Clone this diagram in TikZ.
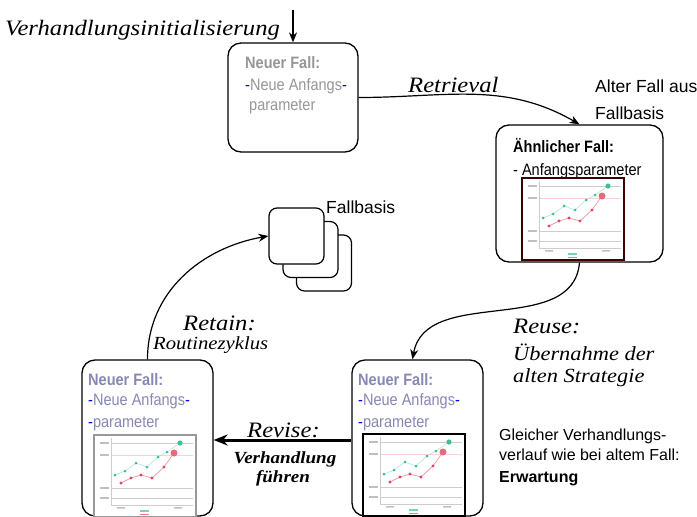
\documentclass[tikz,border=0pt]{standalone}
\usepackage{fontspec}
\setmainfont{Liberation Serif}
\newfontfamily\wideserif[FakeStretch=1.12]{Liberation Serif}
\newfontfamily\plainsans{Liberation Sans}
\newfontfamily\narrowsans[FakeStretch=0.88]{Liberation Sans}
\usetikzlibrary{arrows.meta}
\definecolor{oldgray}{RGB}{150,150,150}
\definecolor{lavender}{RGB}{135,135,180}
\definecolor{dashblue}{RGB}{0,0,255}
\definecolor{dotteal}{RGB}{60,190,150}
\definecolor{dotred}{RGB}{220,70,90}
\definecolor{framered}{RGB}{60,0,0}
\definecolor{chartgray}{RGB}{205,205,205}
\tikzset{
    casebox/.style={draw,line width=1.3pt,rounded corners=13pt,fill=white,inner sep=0pt},
    stackbox/.style={draw,line width=1.2pt,rounded corners=8pt,fill=white,
        minimum width=55pt,minimum height=56pt,inner sep=0pt},
    flow/.style={-{Stealth[length=10pt,width=8pt]},line width=1.2pt},
    reviseflow/.style={-{Stealth[length=14pt,width=11pt]},line width=3pt},
    phase/.style={font=\wideserif\fontsize{22}{24}\selectfont\itshape,inner sep=0pt,anchor=base west},
    phasenote/.style={font=\wideserif\fontsize{20}{22}\selectfont\itshape,inner sep=0pt,anchor=base west},
    revisenote/.style={font=\wideserif\fontsize{17}{19}\selectfont\bfseries\itshape,inner sep=0pt,anchor=base},
    sidenote/.style={font=\plainsans\fontsize{16.5}{19}\selectfont,inner sep=0pt,anchor=base west},
    casetext/.style={font=\narrowsans\fontsize{16.5}{19}\selectfont,inner sep=0pt,anchor=base west},
    chartgrid/.style={chartgray,line width=0.5pt},
    pics/minichart/.style={code={
        \fill[white] (0,0) rectangle (102,82);
        \foreach \gy in {8,53,63} \draw[chartgrid] (17,\gy) -- (99,\gy);
        \draw[chartgrid,dotred!25] (17,20) -- (99,20);
        \draw[chartgrid] (17,3) -- (17,70) -- (99,70);
        \foreach \gy in {8,20,53,63} \fill[gray!50] (6,\gy-1.5) rectangle (15,\gy+0.5);
        \fill[gray!50] (23,72) rectangle (31,73.5) (80,72) rectangle (88,73.5);
        \fill[dotteal!70] (46,75) rectangle (55,76.5);
        \fill[dotred!70] (46,78.5) rectangle (55,80);
        \draw[dotteal!45,line width=0.5pt] (21,40) -- (31,36) -- (42,28) -- (53,32) -- (64,22) -- (73,17) -- (86,8);
        \draw[dotred!55,line width=0.7pt] (27,48) -- (37,43) -- (47,40) -- (58,43) -- (70,32) -- (80,18);
        \foreach \px/\py in {21/40,31/36,42/28,53/32,64/22,73/17}
            \fill[dotteal] (\px,\py) circle[radius=1.5pt];
        \fill[dotteal] (86,8) circle[radius=2.6pt];
        \foreach \px/\py in {27/48,37/43,47/40,58/43,70/32}
            \fill[dotred] (\px,\py) circle[radius=1.6pt];
        \fill[dotred!80] (80,18) circle[radius=3.5pt];
        \draw[#1,line width=1.6pt] (0,0) rectangle (102,82);
    }}
}

\begin{document}
\begin{tikzpicture}[x=1pt,y=-1pt]
    \useasboundingbox (0,0) rectangle (697,517);
    % Initialisation
    \coordinate (init) at (293,10);
    \node[phase] (initlabel) at (5,35) {Verhandlungsinitialisierung};
    % New case (top)
    \node[casebox,minimum width=130pt,minimum height=109pt] (newcase) at (293,97.5) {};
    \node[casetext,oldgray,font=\narrowsans\fontsize{16.5}{19}\selectfont\bfseries] (newhead) at (245,68) {Neuer Fall:};
    \node[casetext,oldgray] (newline1) at (245,90) {\textcolor{dashblue}{-}Neue Anfangs\textcolor{dashblue}{-}};
    \node[casetext,oldgray] (newline2) at (249,110) {parameter};
    \draw[flow] (init) -- (newcase.north);
    % Similar case from the case base
    \node[casebox,minimum width=167pt,minimum height=137pt] (similarcase) at (579.5,193.5) {};
    \node[casetext,font=\narrowsans\fontsize{16.5}{19}\selectfont\bfseries] (simhead) at (513,152) {Ähnlicher Fall:};
    \node[casetext] (simline) at (513,175) {- Anfangsparameter};
    \pic at (522,178) {minichart=framered};
    \node[sidenote,font=\plainsans\fontsize{17.5}{19}\selectfont] (oldcase1) at (595,92) {Alter Fall aus};
    \node[sidenote,font=\plainsans\fontsize{17.5}{19}\selectfont] (oldcase2) at (595,119) {Fallbasis};
    % Retrieval
    \draw[flow] (newcase.east) to[out=0,in=150] (similarcase.north);
    \node[phase] (retrieval) at (408,92) {Retrieval};
    % Case base stack
    \node[stackbox] (stack3) at (324,263) {};
    \node[stackbox] (stack2) at (310.5,249.5) {};
    \node[stackbox] (stack1) at (296.5,236) {};
    \node[sidenote,font=\plainsans\fontsize{17.5}{19}\selectfont] (stacklabel) at (326,213) {Fallbasis};
    % Reused case (bottom middle)
    \node[casebox,minimum width=131pt,minimum height=156pt] (reusecase) at (417.5,438) {};
    \node[casetext,lavender,font=\narrowsans\fontsize{16.5}{19}\selectfont\bfseries] (reusehead) at (358,385) {Neuer Fall:};
    \node[casetext,lavender] (reuseline1) at (358,405) {\textcolor{dashblue}{-}Neue Anfangs\textcolor{dashblue}{-}};
    \node[casetext,lavender] (reuseline2) at (358,427) {\textcolor{dashblue}{-}parameter};
    \pic at (363,434) {minichart=black};
    \draw[flow] (similarcase.south) to[out=-95,in=80] ([xshift=-5pt]reusecase.north);
    \node[phase] (reuse) at (513,333) {Reuse:};
    \node[phasenote] (reusenote1) at (513,360) {Übernahme der};
    \node[phasenote] (reusenote2) at (513,382) {alten Strategie};
    \node[sidenote,font=\plainsans\fontsize{16}{19}\selectfont] (expect1) at (499,440) {Gleicher Verhandlungs-};
    \node[sidenote,font=\plainsans\fontsize{16}{19}\selectfont] (expect2) at (499,460) {verlauf wie bei altem Fall:};
    \node[sidenote,font=\plainsans\fontsize{16}{19}\selectfont\bfseries] (expect3) at (499,482) {Erwartung};
    % Revised case (bottom left)
    \node[casebox,minimum width=131pt,minimum height=156pt] (revisecase) at (147.5,438) {};
    \node[casetext,lavender,font=\narrowsans\fontsize{16.5}{19}\selectfont\bfseries] (revisehead) at (88,385) {Neuer Fall:};
    \node[casetext,lavender] (reviseline1) at (88,405) {\textcolor{dashblue}{-}Neue Anfangs\textcolor{dashblue}{-}};
    \node[casetext,lavender] (reviseline2) at (88,427) {\textcolor{dashblue}{-}parameter};
    \pic at (94,435) {minichart=gray!80};
    % Revise
    \draw[reviseflow] ([yshift=-2pt]reusecase.west) -- ([yshift=-2pt]revisecase.east);
    \node[phase] (revise) at (247,437) {Revise:};
    \node[revisenote] (revisenote1) at (285,463) {Verhandlung};
    \node[revisenote] (revisenote2) at (283,482) {führen};
    % Retain
    \draw[flow] (revisecase.north) to[out=90,in=190] (stack1.west);
    \node[phase] (retain) at (183,330) {Retain:};
    \node[phasenote,font=\wideserif\fontsize{18.5}{20}\selectfont\itshape] (retainnote) at (153,349) {Routinezyklus};
\end{tikzpicture}
\end{document}
